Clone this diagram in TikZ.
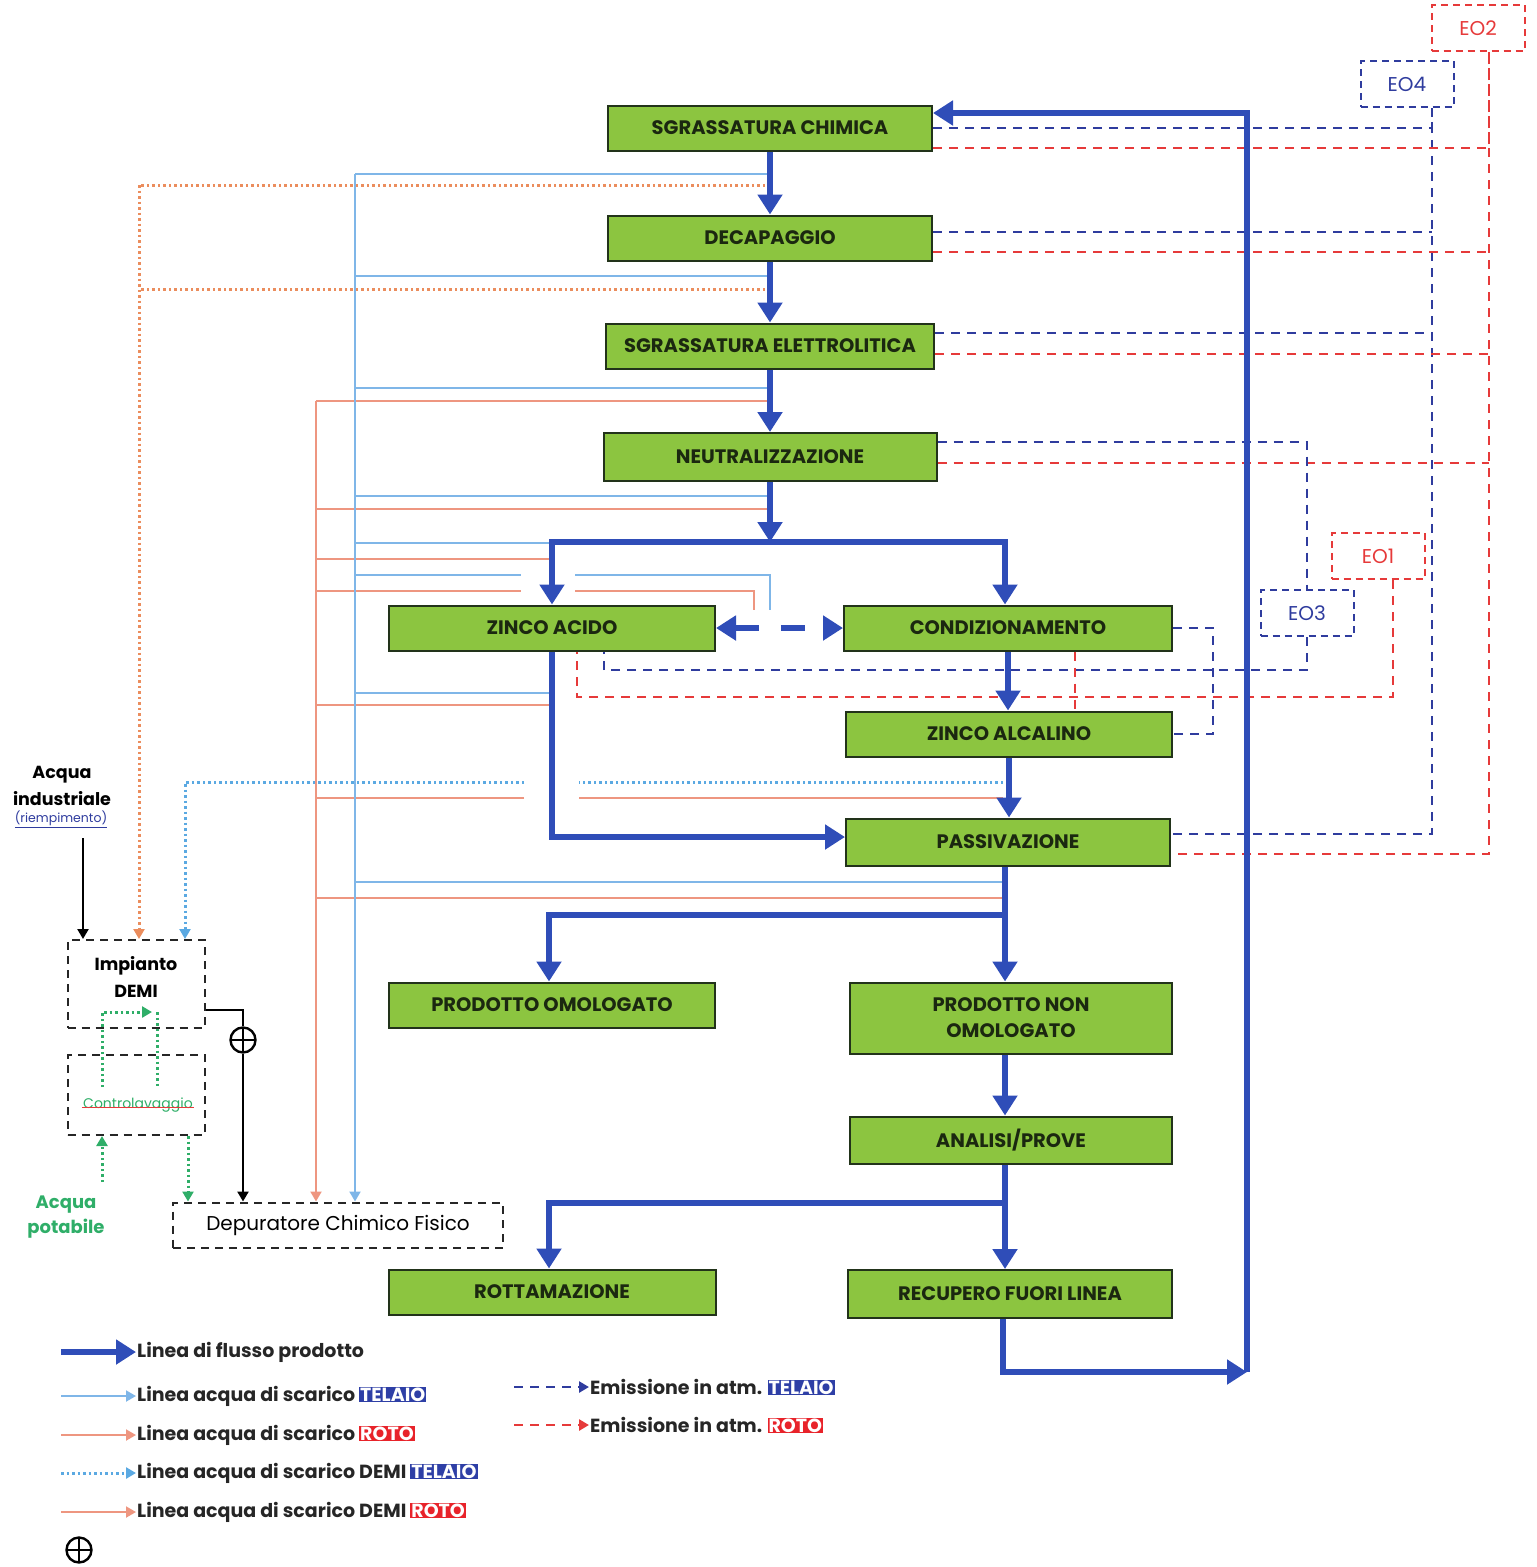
\documentclass[tikz,border=0pt]{standalone}
\usepackage{fontspec}
\setmainfont{Poppins}
\usepackage{xcolor}
\usepackage{tikz}
\usetikzlibrary{arrows.meta}
\definecolor{procGreen}{HTML}{8CC540}
\definecolor{procEdge}{HTML}{22331A}
\definecolor{procText}{HTML}{1B2810}
\definecolor{flowBlue}{HTML}{2F4DB8}
\definecolor{emBlue}{HTML}{2F3C9E}
\definecolor{emRed}{HTML}{E63A3A}
\definecolor{scBlue}{HTML}{7FB6E8}
\definecolor{scSalmon}{HTML}{EE9680}
\definecolor{demiOrange}{HTML}{EB8D5D}
\definecolor{demiBlue}{HTML}{5BA9E2}
\definecolor{potGreen}{HTML}{2FAE68}
\definecolor{badgeBlue}{HTML}{2E3FA6}
\definecolor{badgeRed}{HTML}{E8232A}
\newcommand{\telaio}{{\setlength{\fboxsep}{1pt}\colorbox{badgeBlue}{\textcolor{white}{TELAIO}}}}
\newcommand{\roto}{{\setlength{\fboxsep}{1pt}\colorbox{badgeRed}{\textcolor{white}{ROTO}}}}
\newcommand{\procfont}{\fontsize{19.5}{26}\selectfont\bfseries}
\tikzset{
  procbox/.style={draw=procEdge, line width=2pt, fill=procGreen, minimum width=324pt,
    minimum height=45pt, inner sep=2pt, align=center, font=\procfont, text=procText},
  eobox/.style={line width=2pt, dash pattern=on 7pt off 5pt, minimum width=93pt,
    minimum height=46pt, font=\fontsize{20}{22}\selectfont},
  demibox/.style={draw=black!85, line width=2pt, dash pattern=on 8pt off 6pt},
  valve/.style={circle, draw, line width=2.4pt, minimum size=25pt, inner sep=0pt, fill=white,
    path picture={\draw[line width=2.4pt] (path picture bounding box.north) -- (path picture bounding box.south)
      (path picture bounding box.west) -- (path picture bounding box.east);}},
  lgtext/.style={inner sep=1pt, font=\fontsize{19}{22}\selectfont\bfseries, text=black!85},
  flow/.style={flowBlue, line width=6pt, -{Triangle[width=24pt,length=20pt]}},
  flowdd/.style={flowBlue, line width=6pt, dash pattern=on 24pt off 22pt,
    {Triangle[width=24pt,length=20pt]}-{Triangle[width=24pt,length=20pt]}},
  emT/.style={emBlue, line width=2.6pt, dash pattern=on 9pt off 7pt},
  emR/.style={emRed, line width=2.6pt, dash pattern=on 9pt off 7pt},
  scT/.style={scBlue, line width=2pt},
  scR/.style={scSalmon, line width=2pt},
  dmT/.style={demiBlue, line width=3pt, dash pattern=on 2.5pt off 3pt},
  dmR/.style={demiOrange, line width=3pt, dash pattern=on 2.5pt off 3pt},
  gdot/.style={potGreen, line width=3pt, dash pattern=on 2.5pt off 3pt},
  blk/.style={black, line width=2.4pt},
  tip/.style={-{Triangle[width=11pt,length=10pt]}}
}
\begin{document}
\begin{tikzpicture}[x=1pt, y=-1pt, every node/.style={font=\fontsize{17}{20}\selectfont}]
  \useasboundingbox (0,0) rectangle (1537,1567);
  % Process line
  \node[procbox] (sgrc) at (770,128) {SGRASSATURA CHIMICA};
  \node[procbox] (dec) at (770,238) {DECAPAGGIO};
  \node[procbox, minimum width=328pt] (sgre) at (770,346) {SGRASSATURA ELETTROLITICA};
  \node[procbox, minimum width=333pt, minimum height=48pt] (neu) at (770,457) {NEUTRALIZZAZIONE};
  \node[procbox, minimum width=326pt] (za) at (552,628) {ZINCO ACIDO};
  \node[procbox, minimum width=328pt] (cond) at (1008,628) {CONDIZIONAMENTO};
  \node[procbox, minimum width=326pt] (zal) at (1009,734) {ZINCO ALCALINO};
  \node[procbox, minimum height=47pt] (pas) at (1008,842) {PASSIVAZIONE};
  \node[procbox, minimum width=326pt] (po) at (552,1005) {PRODOTTO OMOLOGATO};
  \node[procbox, minimum width=322pt, minimum height=71pt] (pno) at (1011,1018) {PRODOTTO NON\\OMOLOGATO};
  \node[procbox, minimum width=322pt, minimum height=47pt] (ap) at (1011,1140) {ANALISI/PROVE};
  \node[procbox, minimum width=327pt] (rot) at (552,1292) {ROTTAMAZIONE};
  \node[procbox, minimum height=48pt] (rfl) at (1010,1294) {RECUPERO FUORI LINEA};
  % Emission points
  \node[eobox, draw=emRed, text=emRed] (eo2) at (1478,28) {EO2};
  \node[eobox, draw=emBlue, text=emBlue] (eo4) at (1407,84) {EO4};
  \node[eobox, draw=emRed, text=emRed] (eo1) at (1378,556) {EO1};
  \node[eobox, draw=emBlue, text=emBlue] (eo3) at (1307,613) {EO3};
  % Water treatment
  \node[align=center, font=\fontsize{17.5}{27}\selectfont\bfseries] (acq) at (62,786) {Acqua\\industriale};
  \node[font=\fontsize{12.5}{14}\selectfont, text=emBlue, inner sep=1pt] (riem) at (61,819) {\underline{(riempimento)}};
  \node[demibox, minimum width=137pt, minimum height=88pt, align=center, text depth=14pt,
    font=\fontsize{17.5}{27}\selectfont\bfseries] (demi) at (136,984) {Impianto\\DEMI};
  \node[demibox, minimum width=137pt, minimum height=80pt] (ctrl) at (136,1095) {};
  \node[font=\fontsize{14}{15}\selectfont, text=potGreen, inner sep=1pt] (ctrlt) at (138,1105) {Controlavaggio};
  \draw[emRed, line width=1.2pt] ([yshift=1pt]ctrlt.base west) -- ([yshift=1pt]ctrlt.base east);
  \node[align=center, text=potGreen, font=\fontsize{18}{25}\selectfont\bfseries] (potab) at (66,1217) {Acqua\\potabile};
  \node[demibox, minimum width=330pt, minimum height=45pt, font=\fontsize{20}{22}\selectfont] (dep) at (338,1225) {Depuratore Chimico Fisico};
  \node[valve] (valve) at (243,1040) {};
  % Collector columns and branch points
  \coordinate (cLB) at (355,0);
  \coordinate (cSA) at (316,0);
  \coordinate (cOD) at (139,0);
  \coordinate (cTB) at (1432,0);
  \coordinate (cRB) at (1489,0);
  \coordinate (cXT) at (1213,0);
  \coordinate (br1) at (770,542);
  \coordinate (br2) at (1005,915);
  \coordinate (br3) at (1005,1203);
  \coordinate (ret) at (1247,1372);
  \coordinate (gp) at (102,1182);
  \coordinate (gl1) at (102,1087);
  \coordinate (gl2) at (152,1012);
  \coordinate (gl3) at (157,1012);
  \coordinate (gl4) at (157,1087);

  % Waste water TELAIO / ROTO
  \foreach \y in {174,276,388,496}
    \draw[scT] (sgrc.south |- 0,\y) -- (cLB |- 0,\y);
  \foreach \y in {401,509}
    \draw[scR] (sgrc.south |- 0,\y) -- (cSA |- 0,\y);
  \draw[scT] ([xshift=-2pt]za.north |- 0,543) -- (cLB |- 0,543);
  \draw[scR] ([xshift=-2pt]za.north |- 0,559) -- (cSA |- 0,559);
  \draw[scT] (cLB |- 0,575) -- ([xshift=-31pt]za.north |- 0,575);
  \draw[scT] ([xshift=23pt]za.north |- 0,575) -| ([xshift=-73pt]cond.west |- 0,610);
  \draw[scR] (cSA |- 0,591) -- ([xshift=-31pt]za.north |- 0,591);
  \draw[scR] ([xshift=23pt]za.north |- 0,591) -| ([xshift=-89pt]cond.west |- 0,610);
  \draw[scT] ([xshift=-2pt]za.south |- 0,693) -- (cLB |- 0,693);
  \draw[scR] ([xshift=-2pt]za.south |- 0,705) -- (cSA |- 0,705);
  \draw[scR] ([xshift=-5pt]pas.north |- 0,798) -- ([xshift=27pt]za.south |- 0,798);
  \draw[scR] ([xshift=-28pt]za.south |- 0,798) -- (cSA |- 0,798);
  \draw[scT] ([xshift=-5pt]pas.south |- 0,882) -- (cLB |- 0,882);
  \draw[scR] ([xshift=-5pt]pas.south |- 0,898) -- (cSA |- 0,898);
  \draw[scT, tip] (cLB |- 0,174) -- (cLB |- dep.north);
  \draw[scR, tip] (cSA |- 0,401) -- (cSA |- dep.north);
  % DEMI water
  \foreach \y in {185,289}
    \draw[dmR] ([xshift=-5pt]sgrc.south |- 0,\y) -- (cOD |- 0,\y);
  \draw[dmR, tip] (cOD |- 0,185) -- ([xshift=3pt]demi.north);
  \draw[dmT] ([xshift=-5pt]pas.north |- 0,782) -- ([xshift=27pt]za.south |- 0,782);
  \draw[dmT, tip] ([xshift=-28pt]za.south |- 0,782) -| ([xshift=49pt]demi.north);
  \draw[blk, tip] ([xshift=22pt]riem.south |- 0,838) -- ([xshift=-53pt]demi.north);
  \draw[blk] ([yshift=-26pt]demi.east) -| (valve.north);
  \draw[blk, tip] (valve.south) -- (valve.south |- dep.north);
  \draw[gdot, tip] (gp) -- ([xshift=-34pt]ctrl.south);
  \draw[gdot, tip] ([xshift=52pt]ctrl.south) -- ([xshift=-150pt]dep.north);
  \draw[gdot, tip] (gl1) |- (gl2);
  \draw[gdot] (gl3) -- (gl4);

  % Emissions to atmosphere
  \draw[emT] (sgrc.east) -| (cTB |- eo4.south);
  \foreach \n/\y in {dec/232, sgre/333}
    \draw[emT] (\n.east |- 0,\y) -- (cTB |- 0,\y);
  \draw[emT] (cTB |- eo4.south) |- (pas.east |- 0,834);
  \draw[emR] (sgrc.east |- 0,148) -| (cRB |- eo2.south);
  \foreach \n/\y in {dec/252, sgre/354, neu/463}
    \draw[emR] (\n.east |- 0,\y) -- (cRB |- 0,\y);
  \draw[emR] (cRB |- eo2.south) |- (pas.east |- 0,854);
  \draw[emT] (neu.east |- 0,442) -| (eo3.north);
  \draw[emT] (eo3.south) |- ([xshift=52pt]za.south |- 0,670) -- ([xshift=52pt]za.south);
  \draw[emR] ([xshift=15pt]eo1.south) |- ([xshift=25pt]za.south |- 0,697) -- ([xshift=25pt]za.south);
  \draw[emT] (cond.east) -| (cXT |- zal.east) -- (zal.east);
  \draw[emR] ([xshift=67pt]cond.south) -- ([xshift=66pt]zal.north);

  % Product flow
  \draw[flow] (sgrc.south) -- (dec.north);
  \draw[flow] (dec.south) -- (sgre.north);
  \draw[flow] (sgre.south) -- (neu.north);
  \draw[flow] (neu.south) -- (br1);
  \draw[flow] (br1) -| (za.north);
  \draw[flow] (br1) -| ([xshift=-3pt]cond.north);
  \draw[flowdd] (za.east) -- (cond.west);
  \draw[flow] (cond.south) -- (cond.south |- zal.north);
  \draw[flow] (zal.south) -- (zal.south |- pas.north);
  \draw[flow] (za.south) |- ([yshift=5pt]pas.west);
  \draw[flow] ([xshift=-3pt]pas.south) -- ([xshift=-3pt]pas.south |- pno.north);
  \draw[flow] (br2) -| ([xshift=-3pt]po.north);
  \draw[flow] ([xshift=-6pt]pno.south) -- ([xshift=-6pt]pno.south |- ap.north);
  \draw[flow] ([xshift=-6pt]ap.south) -- ([xshift=-6pt]ap.south |- rfl.north);
  \draw[flow] (br3) -| ([xshift=-3pt]rot.north);
  \draw[flow] ([xshift=-7pt]rfl.south) |- (ret);
  \draw[flow] (ret) |- ([yshift=15pt]sgrc.east);

  % Legend
  \node[lgtext, anchor=west] (lg1) at (136,1352) {Linea di flusso prodotto};
  \node[lgtext, anchor=west] (lg2) at (136,1396) {Linea acqua di scarico \telaio};
  \node[lgtext, anchor=west] (lg3) at (136,1435) {Linea acqua di scarico \roto};
  \node[lgtext, anchor=west] (lg4) at (136,1473) {Linea acqua di scarico DEMI \telaio};
  \node[lgtext, anchor=west] (lg5) at (136,1512) {Linea acqua di scarico DEMI \roto};
  \node[valve] (lg6) at (79,1550) {};
  \node[lgtext, anchor=west] (lg7) at (589,1387) {Emissione in atm. \telaio};
  \node[lgtext, anchor=west] (lg8) at (589,1425) {Emissione in atm. \roto};
  \draw[flow] ([xshift=-75pt]lg1.west) -- (lg1.west);
  \draw[scT, tip] ([xshift=-75pt]lg2.west) -- (lg2.west);
  \draw[scR, tip] ([xshift=-75pt]lg3.west) -- (lg3.west);
  \draw[dmT, tip] ([xshift=-75pt]lg4.west) -- (lg4.west);
  \draw[scR, tip] ([xshift=-75pt]lg5.west) -- (lg5.west);
  \draw[emT, tip] ([xshift=-75pt]lg7.west) -- (lg7.west);
  \draw[emR, tip] ([xshift=-75pt]lg8.west) -- (lg8.west);
\end{tikzpicture}
\end{document}
